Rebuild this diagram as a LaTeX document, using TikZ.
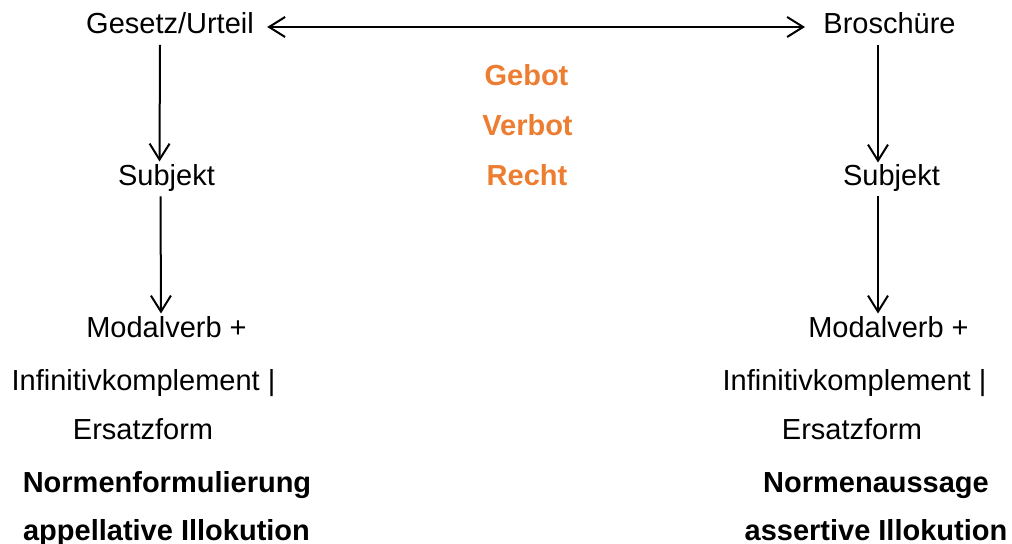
\documentclass[tikz,border=0pt]{standalone}
\usepackage{fontspec}
\setmainfont{Liberation Sans}
\usetikzlibrary{positioning, arrows.meta}
\definecolor{normorange}{HTML}{ED7D31}

\begin{document}
\begin{tikzpicture}[x=0.5pt, y=-0.5pt,
        every node/.style={inner sep=0pt, anchor=base, font=\fontsize{14.5}{17}\selectfont},
        >={Straight Barb[length=8pt, width=10pt]},
        pfeil/.style={->, line width=1pt},
        fett/.style={font=\fontsize{14.5}{17}\selectfont\bfseries},
        modal/.style={fett, text=normorange}]
        \useasboundingbox (0,0) rectangle (1012,544);

        % linke Spalte
        \node (G) at (170,34) {Gesetz/Urteil};
        \node (SL) at (166.5,185.5) {Subjekt};
        \node (ML) at (166.5,337.5) {Modalverb +};
        \node (IL) at (143.5,390.5) {Infinitivkomplement |};
        \node (EL) at (143,439.5) {Ersatzform};
        \node[fett] (NL) at (167,492.5) {Normenformulierung};
        \node[fett] (AL) at (166.5,540.5) {appellative Illokution};

        % rechte Spalte
        \node (B) at (889.5,34) {Broschüre};
        \node (SR) at (891.5,185.5) {Subjekt};
        \node (MR) at (888.5,337.5) {Modalverb +};
        \node (IR) at (854.5,390.5) {Infinitivkomplement |};
        \node (ER) at (852,439.5) {Ersatzform};
        \node[fett] (NR) at (876,492.5) {Normenaussage};
        \node[fett] (AR) at (876,540.5) {assertive Illokution};

        % Mitte
        \node[modal] (geb) at (526.5,85.5) {Gebot};
        \node[modal] (verb) at (527.5,135.5) {Verbot};
        \node[modal] (re) at (527,185.5) {Recht};

        \draw[pfeil, <->] ([xshift=6.5pt, yshift=3.5pt]G.base east) -- ([xshift=-9pt, yshift=3.5pt]B.base west);
        \draw[pfeil] ([xshift=-5pt, yshift=-5.5pt]G.base) -- ([xshift=-3.5pt, yshift=12pt]SL.base);
        \draw[pfeil] ([xshift=-3pt, yshift=-5.5pt]SL.base) -- ([xshift=-2.75pt, yshift=12pt]ML.base);
        \draw[pfeil] ([xshift=-5.75pt, yshift=-5.5pt]B.base) -- ([xshift=-6.75pt, yshift=11.5pt]SR.base);
        \draw[pfeil] ([xshift=-6.75pt, yshift=-5.5pt]SR.base) -- ([xshift=-5.25pt, yshift=12pt]MR.base);
\end{tikzpicture}
\end{document}
